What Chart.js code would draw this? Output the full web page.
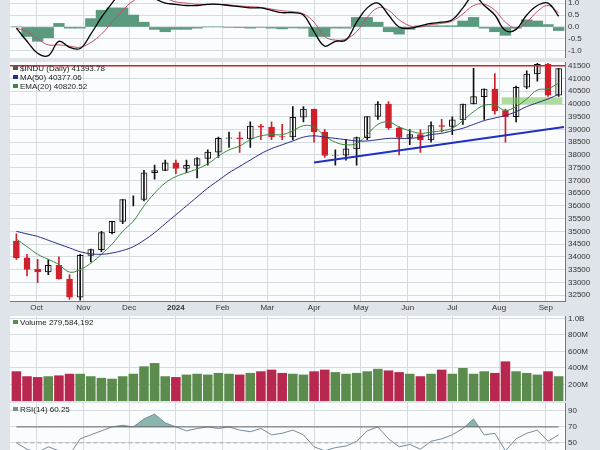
<!DOCTYPE html>
<html><head><meta charset="utf-8">
<script src="https://cdn.jsdelivr.net/npm/chart.js@4/dist/chart.umd.min.js"></script>
<style>
body{margin:0;background:#dfe4ea;font-family:"Liberation Sans",Arial,sans-serif}
.p{position:absolute;left:0;width:600px}
</style></head><body>
<div class="p" style="top:0;height:58px"><canvas id="macd"></canvas></div>
<div class="p" style="top:58px;height:257px"><canvas id="price"></canvas></div>
<div class="p" style="top:312px;height:89px"><canvas id="vol"></canvas></div>
<div class="p" style="top:402px;height:48px"><canvas id="rsi"></canvas></div>
<script>
const monthLabels=['Oct','Nov','Dec','2024','Feb','Mar','Apr','May','Jun','Jul','Aug','Sep'];
const monthPos=[1.9,6.3,10.6,15,19.4,23.6,28,32.4,36.8,41,45.4,49.8];
const opens=[34620,33960,33510,33410,33670,33130,32420,34060,34280,34950,35390,36250,36250,37300,37390,37690,37470,37590,37860,38110,38650,38670,38630,39130,39090,38720,38710,39480,39800,38900,37980,37990,38240,38680,39510,40000,39070,38690,38800,38590,39150,39120,39380,40000,40290,40590,39740,39500,40660,41180,41560,40350];
const highs=[34900,34100,33900,33900,34000,33300,34100,34300,35000,35350,36250,36400,37400,37600,37800,37800,37800,37900,38200,38700,38900,38900,39300,39200,39300,39200,39900,39900,39800,39000,38200,38600,38700,39500,40100,40100,39100,39000,39000,39300,39400,39500,40000,41400,40600,41200,39800,40700,41300,41600,41600,41400];
const lows=[33900,33250,32990,33300,33120,32330,32300,33800,34200,34900,35300,36000,36200,37050,37380,37270,37300,37100,37600,37900,38300,38100,38300,38600,38600,38600,38600,39300,38500,37900,37600,37800,37600,38600,39400,39000,38000,38400,38100,38500,38900,38800,39200,40000,39400,39600,38500,39300,40600,40900,40300,40300];
const closes=[33960,33510,33410,33670,33130,32420,34060,34280,34950,35390,36250,36250,37300,37390,37690,37470,37590,37860,38110,38650,38670,38630,39130,39090,38720,38710,39480,39800,38900,37980,37990,38240,38680,39510,40000,39070,38690,38800,38590,39150,39120,39380,40000,40290,40590,39740,39500,40660,41180,41560,40350,41390];
const ma50=[35000,34900,34800,34650,34500,34350,34200,34120,34100,34150,34250,34400,34650,34950,35300,35650,36000,36350,36700,37000,37300,37550,37800,38050,38250,38400,38550,38700,38750,38700,38650,38600,38550,38550,38600,38650,38650,38650,38700,38800,38850,38950,39050,39200,39350,39450,39550,39700,39900,40050,40200,40377];
const ema20=[34700,34400,34100,33900,33700,33400,33500,33750,34100,34500,35000,35400,36000,36500,36900,37150,37300,37450,37650,37950,38200,38350,38600,38750,38800,38800,38950,39150,39100,38750,38500,38400,38450,38800,39200,39300,39100,38950,38850,38900,38950,39050,39350,39700,39950,39950,39750,39900,40200,40550,40600,40820];
const volumes=[360,300,290,300,310,330,330,300,280,270,300,330,420,460,300,290,320,330,320,340,330,320,340,360,380,340,330,320,360,380,350,330,340,360,390,370,350,330,300,330,380,330,400,330,360,340,480,360,340,320,360,300];
const macdLine=[-0.05,-0.6,-1.1,-1.2,-0.6,-0.85,-0.9,-0.3,0.4,1.0,1.5,1.6,1.5,1.2,1.0,0.95,0.9,0.9,0.95,0.95,0.9,0.85,0.8,0.8,0.7,0.6,0.6,0.5,-0.2,-0.8,-0.6,-0.55,0.2,0.8,1.0,0.5,0.0,-0.05,0.05,0.15,0.2,0.3,0.8,1.3,0.9,0.5,-0.15,-0.1,0.5,0.9,1.0,0.45];
const signalLine=[-0.05,-0.2,-0.5,-0.75,-0.75,-0.8,-0.85,-0.65,-0.3,0.2,0.7,1.1,1.3,1.3,1.2,1.05,1.0,0.95,0.95,0.95,0.92,0.88,0.85,0.82,0.75,0.68,0.64,0.55,0.2,-0.4,-0.55,-0.5,-0.2,0.4,0.8,0.7,0.3,0.05,0.0,0.1,0.15,0.25,0.55,0.9,0.95,0.7,0.2,-0.05,0.2,0.65,0.9,0.6];
const rsiValues=[50,42,38,45,40,35,55,60,65,70,72,70,80,86,75,70,65,68,70,68,70,66,64,68,60,62,66,60,45,40,44,46,52,65,70,55,45,48,42,52,55,60,68,80,60,62,40,55,62,66,52,60];
const trendX=[28,51.5], trendY=[37700,39100];

const XMIN=-0.6, XMAX=51.6;
const grid='#d6dbe0';
function xScale(show){return {type:'linear',min:XMIN,max:XMAX,offset:false,
  afterBuildTicks:a=>{a.ticks=monthPos.map(v=>({value:v}));},
  ticks:{display:show,autoSkip:false,maxRotation:0,color:'#333',padding:2,
    font:c=>({size:8,weight:c.tick&&c.tick.value===15?'bold':'normal'}),
    callback:(v)=>monthLabels[monthPos.indexOf(v)]||''},
  grid:{color:grid,drawTicks:false,tickLength:0,offset:false},border:{color:'#777'}};}
function yScale(min,max,ticks,fmt){return {position:'right',min,max,
  afterBuildTicks:a=>{a.ticks=ticks.map(v=>({value:v}));},
  afterFit:s=>{s.width=1;},
  ticks:{display:false,callback:fmt||(v=>v)},
  grid:{color:grid,drawTicks:false,tickLength:0},border:{color:'#777'}};}
const yLabels={id:'yl',afterDraw(c){const s=c.scales.y,x=c.ctx;x.save();x.font='8px "Liberation Sans"';x.fillStyle='#333';x.textBaseline='middle';
  s.ticks.forEach(t=>{const y=s.getPixelForValue(t.value);const txt=s.options.ticks.callback(t.value);x.fillText(txt,c.chartArea.right+3,y);});x.restore();}};
const bg={id:'bg',beforeDraw(c){const x=c.ctx,a=c.chartArea;x.save();x.fillStyle='#fbfcfd';x.fillRect(a.left,a.top,a.width,a.height);x.restore();}};
function label(lines){return {id:'lbl',afterDraw(c){const x=c.ctx,a=c.chartArea;x.save();x.font='8px "Liberation Sans"';
  lines.forEach((l,i)=>{x.fillStyle=l[1];x.fillRect(a.left+3,a.top+4+i*9,5,4);x.fillStyle='#222';x.fillText(l[0],a.left+10,a.top+9+i*9);});x.restore();}};}
const base={responsive:true,maintainAspectRatio:false,animation:false,plugins:{legend:{display:false},tooltip:{enabled:false}}};
const idx=closes.map((_,i)=>i);
const pad={left:10,right:34,top:0,bottom:0};

new Chart(document.getElementById('macd'),{type:'bar',data:{datasets:[
 {type:'line',data:idx.map(i=>({x:i,y:macdLine[i]})),borderColor:'#000',borderWidth:1.3,pointRadius:0,tension:0.4},
 {type:'line',data:idx.map(i=>({x:i,y:signalLine[i]})),borderColor:'#c0506a',borderWidth:1,pointRadius:0,tension:0.4},
 {data:idx.map(i=>({x:i,y:macdLine[i]-signalLine[i]})),backgroundColor:'#5a9a7e',barPercentage:1,categoryPercentage:1}]},
 options:{...base,layout:{padding:pad},scales:{x:xScale(false),y:yScale(-1.3,1.13,[-1,-0.5,0,0.5,1],v=>v.toFixed(1))}},plugins:[bg,yLabels]});

const candleColor=idx.map(i=>closes[i]>=opens[i]?'#111':'#d0202c');
new Chart(document.getElementById('price'),{type:'bar',data:{datasets:[
 {type:'line',data:[{x:XMIN,y:41500},{x:XMAX,y:41500}],borderColor:'#d42020',borderWidth:1.5,pointRadius:0},
 {type:'line',data:trendX.map((x,i)=>({x,y:trendY[i]})),borderColor:'#2030c0',borderWidth:2,pointRadius:0},
 {type:'line',data:idx.map(i=>({x:i,y:ma50[i]})),borderColor:'#2a2a8a',borderWidth:1,pointRadius:0,tension:0.4},
 {type:'line',data:idx.map(i=>({x:i,y:ema20[i]})),borderColor:'#3a8a3a',borderWidth:1,pointRadius:0,tension:0.4},
 {data:[{x:48.5,y:[40000,40250]}],backgroundColor:'rgba(120,200,90,0.6)',barThickness:60,grouped:false},
 {data:idx.map(i=>({x:i,y:[lows[i],highs[i]]})),backgroundColor:candleColor,barThickness:1,grouped:false},
 {data:idx.map(i=>({x:i,y:[opens[i],closes[i]]})),backgroundColor:idx.map(i=>closes[i]>=opens[i]?'#fff':'#d0202c'),borderColor:candleColor,borderWidth:1,borderSkipped:false,barThickness:6,grouped:false}]},
 options:{...base,layout:{padding:{...pad,top:4}},scales:{x:xScale(true),
  y:yScale(32250,41650,[32500,33000,33500,34000,34500,35000,35500,36000,36500,37000,37500,38000,38500,39000,39500,40000,40500,41000,41500])}},
 plugins:[bg,yLabels,label([['$INDU (Daily) 41393.78','#555'],['MA(50) 40377.06','#2a2a8a'],['EMA(20) 40820.52','#3a8a3a']])]});

new Chart(document.getElementById('vol'),{type:'bar',data:{datasets:[
 {data:idx.map(i=>({x:i,y:volumes[i]})),backgroundColor:idx.map(i=>closes[i]>=opens[i]?'#5b8c4e':'#b8284e'),barPercentage:0.9,categoryPercentage:1}]},
 options:{...base,layout:{padding:{...pad,top:4}},scales:{x:xScale(false),
  y:yScale(0,1030,[200,400,600,800,1000],v=>v==1000?'1.0B':v+'M')}},
 plugins:[bg,yLabels,label([['Volume 279,584,192','#5b8c4e']])]});

new Chart(document.getElementById('rsi'),{type:'line',data:{datasets:[
 {data:idx.map(i=>({x:i,y:70})),borderColor:'#666',borderWidth:1,pointRadius:0},
 {data:idx.map(i=>({x:i,y:50})),borderColor:'#aaa',borderWidth:1,borderDash:[4,3],pointRadius:0},
 {data:idx.map(i=>({x:i,y:rsiValues[i]})),borderColor:'#7a8a9a',borderWidth:1,pointRadius:0,fill:{target:{value:70},above:'rgba(90,150,140,0.7)',below:'rgba(0,0,0,0)'}}]},
 options:{...base,layout:{padding:{...pad,top:1}},scales:{x:xScale(false),y:yScale(41,100,[50,70,90])}},
 plugins:[bg,yLabels,label([['RSI(14) 60.25','#7a8a9a']])]});
</script></body></html>
